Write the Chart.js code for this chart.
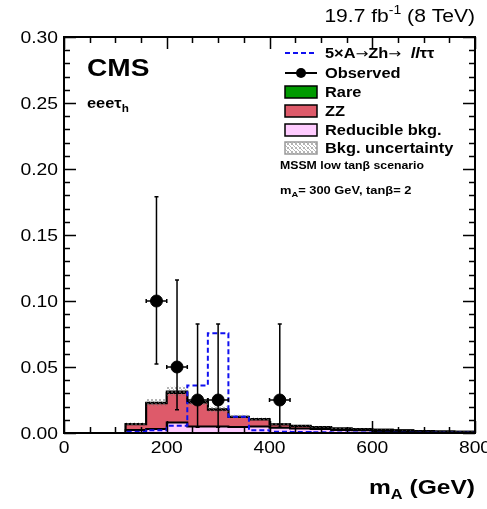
<!DOCTYPE html>
<html>
<head>
<meta charset="utf-8">
<script src="https://cdn.jsdelivr.net/npm/chart.js@4.4.0/dist/chart.umd.min.js"></script>
<style>
  html, body { margin: 0; padding: 0; background: #fff; overflow: hidden; }
  canvas { display: block; }
</style>
</head>
<body>
<canvas id="chartMassA" width="487" height="509"></canvas>
<script>
"use strict";

/* bins of 40 GeV, 0 - 800 */
var binEdges  = [0, 40, 80, 120, 160, 200, 240, 280, 320, 360, 400, 440, 480, 520, 560, 600, 640, 680, 720, 760, 800];
var reducible = [0, 0, 0, 0.0022, 0.003, 0.008, 0.005, 0.005, 0.0045, 0.005, 0.004, 0.0035, 0.003, 0.0022, 0.002, 0.0015, 0.0012, 0.001, 0.0008, 0.0006];
var zz        = [0, 0, 0, 0.0044, 0.0195, 0.0223, 0.0181, 0.0126, 0.0076, 0.0053, 0.0024, 0.0018, 0.0014, 0.0012, 0.0009, 0.0009, 0.0007, 0.0004, 0.0004, 0.0004];
var rare      = [0, 0, 0, 0.0002, 0.0005, 0.0012, 0.0006, 0.0004, 0.0003, 0.0003, 0.0002, 0.0002, 0.0001, 0.0001, 0.0001, 0.0001, 0.0001, 0.0001, 0, 0];
var bkgUnc    = [0, 0, 0, 0.0012, 0.0028, 0.0035, 0.0025, 0.002, 0.0015, 0.0012, 0.0008, 0.0007, 0.0006, 0.0005, 0.0004, 0.0003, 0.0003, 0.0002, 0.0002, 0.0002];
var signal5x  = [0, 0, 0, 0.001, 0.002, 0.0055, 0.036, 0.0755, 0.0124, 0.002, 0.001, 0.0008, 0.0005, 0.0004, 0.0003, 0.0002, 0.0002, 0.0001, 0.0001, 0.0001];

var obsMass = [180, 220, 260, 300, 420];
var obsVal  = [0.10, 0.05, 0.025, 0.025, 0.025];
var obsLow  = [0.0523, 0.0177, 0.0043, 0.0043, 0.0043];
var obsHigh = [0.179, 0.116, 0.0825, 0.0825, 0.0825];
var obsHalfWidth = 20;

var xTickLabels = [0, 200, 400, 600, 800];
var yTickLabels = [0, 0.05, 0.10, 0.15, 0.20, 0.25, 0.30];

var FONT = '"Liberation Sans", Arial, Helvetica, sans-serif';
var SX = 1.17;   // the original picture is stretched sideways a little

/* helpers */
function stepPoints(vals) {
  var pts = vals.map(function(v, i) { return { x: binEdges[i], y: v }; });
  pts.push({ x: binEdges[binEdges.length - 1], y: vals[vals.length - 1] });
  return pts;
}
function addUp() {
  var arrs = arguments;
  return arrs[0].map(function(_, i) {
    var s = 0;
    for (var k = 0; k < arrs.length; k++) s += arrs[k][i];
    return s;
  });
}
var cumRed  = reducible;
var cumZZ   = addUp(reducible, zz);
var cumAll  = addUp(reducible, zz, rare);
var uncHi   = cumAll.map(function(v, i) { return v + bkgUnc[i]; });
var uncLo   = cumAll.map(function(v, i) { return Math.max(0, v - bkgUnc[i]); });

function hatchPattern() {
  var c = document.createElement('canvas');
  c.width = 4; c.height = 4;
  var g = c.getContext('2d');
  g.fillStyle = 'rgba(120,120,120,0.55)';
  g.fillRect(0, 0, 1, 1); g.fillRect(1, 1, 1, 1); g.fillRect(2, 2, 1, 1); g.fillRect(3, 3, 1, 1);
  g.fillRect(3, 0, 1, 1); g.fillRect(0, 3, 1, 1);
  return g.createPattern(c, 'repeat');
}
var HATCH = hatchPattern();

/* text runs: [{t, size, bold, italic, dy, family}] drawn with the sideways stretch */
function runFont(r) {
  return (r.italic ? 'italic ' : '') + (r.bold ? 'bold ' : '') + r.size + 'px ' + (r.family || FONT);
}
function drawRuns(ctx, runs, x, y, align) {
  ctx.save();
  var w = 0;
  runs.forEach(function(r) { ctx.font = runFont(r); r.w = ctx.measureText(r.t).width * SX; w += r.w; });
  var cx = align === 'right' ? x - w : (align === 'center' ? x - w / 2 : x);
  ctx.fillStyle = '#000';
  ctx.textBaseline = 'alphabetic';
  ctx.textAlign = 'left';
  runs.forEach(function(r) {
    ctx.save();
    ctx.font = runFont(r);
    ctx.translate(cx, y + (r.dy || 0));
    ctx.scale(SX, 1);
    ctx.fillText(r.t, 0, 0);
    ctx.restore();
    cx += r.w;
  });
  ctx.restore();
}

var histoDecor = {
  id: 'histoDecor',
  afterDatasetsDraw: function(chart) {
    var ctx = chart.ctx, xs = chart.scales.x, ys = chart.scales.y;
    ctx.save();
    ctx.strokeStyle = '#000';
    ctx.lineWidth = 1.5;
    obsMass.forEach(function(m, i) {
      var px = xs.getPixelForValue(m), py = ys.getPixelForValue(obsVal[i]);
      var yl = ys.getPixelForValue(obsLow[i]), yh = ys.getPixelForValue(obsHigh[i]);
      var xl = xs.getPixelForValue(m - obsHalfWidth), xh = xs.getPixelForValue(m + obsHalfWidth);
      ctx.beginPath();
      ctx.moveTo(px, yl); ctx.lineTo(px, yh);
      ctx.moveTo(px - 2, yh); ctx.lineTo(px + 2, yh);
      ctx.moveTo(px - 2, yl); ctx.lineTo(px + 2, yl);
      ctx.moveTo(xl, py); ctx.lineTo(xh, py);
      ctx.moveTo(xl, py - 2); ctx.lineTo(xl, py + 2);
      ctx.moveTo(xh, py - 2); ctx.lineTo(xh, py + 2);
      ctx.stroke();
    });
    ctx.restore();
  },
  afterDraw: function(chart) {
    var ctx = chart.ctx, a = chart.chartArea, xs = chart.scales.x, ys = chart.scales.y;
    ctx.save();
    ctx.strokeStyle = '#000';
    ctx.lineWidth = 1.5;
    ctx.beginPath();
    var v, p, len;
    for (v = 0; v <= 800; v += 50) {
      p = Math.round(xs.getPixelForValue(v)) + 0.5;
      len = (v % 200 === 0) ? 12 : 6;
      ctx.moveTo(p, a.bottom); ctx.lineTo(p, a.bottom - len);
      ctx.moveTo(p, a.top); ctx.lineTo(p, a.top + len);
    }
    for (v = 0; v <= 30; v += 1) {
      p = Math.round(ys.getPixelForValue(v / 100)) + 0.5;
      len = (v % 5 === 0) ? 12 : 6;
      ctx.moveTo(a.left, p); ctx.lineTo(a.left + len, p);
      ctx.moveTo(a.right, p); ctx.lineTo(a.right - len, p);
    }
    ctx.stroke();
    ctx.lineWidth = 2;
    ctx.strokeRect(a.left, a.top, a.right - a.left, a.bottom - a.top);

    /* tick labels */
    xTickLabels.forEach(function(t) {
      drawRuns(ctx, [{ t: String(t), size: 16.5 }], xs.getPixelForValue(t), a.bottom + 20, 'center');
    });
    yTickLabels.forEach(function(t) {
      drawRuns(ctx, [{ t: t.toFixed(2), size: 16.5 }], a.left - 6, ys.getPixelForValue(t) + 6, 'right');
    });

    /* axis title */
    drawRuns(ctx, [
      { t: 'm', size: 21, bold: true },
      { t: 'A', size: 14, bold: true, dy: 5 },
      { t: ' (GeV)', size: 21, bold: true }
    ], a.right, 494, 'right');

    /* luminosity */
    drawRuns(ctx, [
      { t: '19.7 fb', size: 18 },
      { t: '-1', size: 12, dy: -8 },
      { t: ' (8 TeV)', size: 18 }
    ], a.right, 22, 'right');

    drawRuns(ctx, [{ t: 'CMS', size: 24, bold: true }], 87, 76, 'left');
    drawRuns(ctx, [
      { t: 'eee\u03c4', size: 14, bold: true },
      { t: 'h', size: 10, bold: true, dy: 4 }
    ], 87, 108, 'left');

    /* legend */
    var lx0 = 285, lx1 = 317, tx = 325;
    var rows = [53, 73, 92, 111, 130, 148];
    var ARROW = '"DejaVu Sans", sans-serif';
    ctx.lineWidth = 2;
    ctx.strokeStyle = '#1010f0';
    ctx.setLineDash([5, 3]);
    ctx.beginPath(); ctx.moveTo(lx0, rows[0]); ctx.lineTo(lx1, rows[0]); ctx.stroke();
    ctx.setLineDash([]);
    drawRuns(ctx, [
      { t: '5\u00d7A', size: 14, bold: true },
      { t: '\u2192', size: 13, family: ARROW },
      { t: 'Zh', size: 14, bold: true },
      { t: '\u2192  ', size: 13, family: ARROW },
      { t: 'll', size: 14, bold: true, italic: true },
      { t: '\u03c4\u03c4', size: 14, bold: true }
    ], tx, rows[0] + 5, 'left');

    ctx.strokeStyle = '#000';
    ctx.beginPath(); ctx.moveTo(lx0, rows[1]); ctx.lineTo(lx1, rows[1]); ctx.stroke();
    ctx.fillStyle = '#000';
    ctx.beginPath(); ctx.arc((lx0 + lx1) / 2, rows[1], 5, 0, Math.PI * 2); ctx.fill();
    drawRuns(ctx, [{ t: 'Observed', size: 14, bold: true }], tx, rows[1] + 5, 'left');

    var boxes = [
      { fill: '#009a00', label: 'Rare', stroke: '#000' },
      { fill: '#de5a6a', label: 'ZZ', stroke: '#000' },
      { fill: '#ffccff', label: 'Reducible bkg.', stroke: '#000' },
      { fill: HATCH, label: 'Bkg. uncertainty', stroke: '#999' }
    ];
    boxes.forEach(function(b, i) {
      var cy = rows[i + 2];
      ctx.fillStyle = b.fill;
      ctx.fillRect(lx0, cy - 6, lx1 - lx0, 12);
      ctx.strokeStyle = b.stroke;
      ctx.lineWidth = 1.5;
      ctx.strokeRect(lx0, cy - 6, lx1 - lx0, 12);
      drawRuns(ctx, [{ t: b.label, size: 14, bold: true }], tx, cy + 5, 'left');
    });

    drawRuns(ctx, [{ t: 'MSSM low tan\u03b2 scenario', size: 10.5, bold: true }], 280, 169, 'left');
    drawRuns(ctx, [
      { t: 'm', size: 11, bold: true },
      { t: 'A', size: 8, bold: true, dy: 3 },
      { t: '= 300 GeV, tan\u03b2= 2', size: 11, bold: true }
    ], 280, 194, 'left');
    ctx.restore();
  }
};

function histLine(label, vals, color, order, extra) {
  var ds = {
    label: label,
    data: stepPoints(vals),
    stepped: true,
    borderColor: '#000',
    borderWidth: 2,
    backgroundColor: color,
    fill: 'origin',
    pointRadius: 0,
    tension: 0,
    order: order
  };
  for (var k in (extra || {})) ds[k] = extra[k];
  return ds;
}

new Chart(document.getElementById('chartMassA'), {
  type: 'line',
  data: {
    datasets: [
      histLine('Rare', cumAll, '#009a00', 6),
      histLine('ZZ', cumZZ, '#de5a6a', 5),
      histLine('Reducible bkg.', cumRed, '#ffccff', 4),
      histLine('Bkg. uncertainty', uncHi, HATCH, 3, { borderWidth: 0, borderColor: 'rgba(0,0,0,0)', fill: '+1' }),
      histLine('unc low', uncLo, 'rgba(0,0,0,0)', 3, { borderWidth: 0, borderColor: 'rgba(0,0,0,0)', fill: false }),
      histLine('5xA->Zh->lltautau', signal5x, 'rgba(0,0,0,0)', 2,
        { borderColor: '#1010f0', borderDash: [5, 3], fill: false }),
      {
        label: 'Observed',
        data: obsMass.map(function(m, i) { return { x: m, y: obsVal[i] }; }),
        showLine: false,
        pointRadius: 6,
        pointBackgroundColor: '#000',
        pointBorderColor: '#000',
        order: 1
      }
    ]
  },
  options: {
    responsive: false,
    animation: false,
    devicePixelRatio: 1,
    layout: { padding: { left: 64, top: 37, right: 12, bottom: 76 } },
    plugins: { legend: { display: false }, tooltip: { enabled: false } },
    scales: {
      x: { type: 'linear', min: 0, max: 800, display: false },
      y: { type: 'linear', min: 0, max: 0.30, display: false }
    }
  },
  plugins: [histoDecor]
});
</script>
</body>
</html>
